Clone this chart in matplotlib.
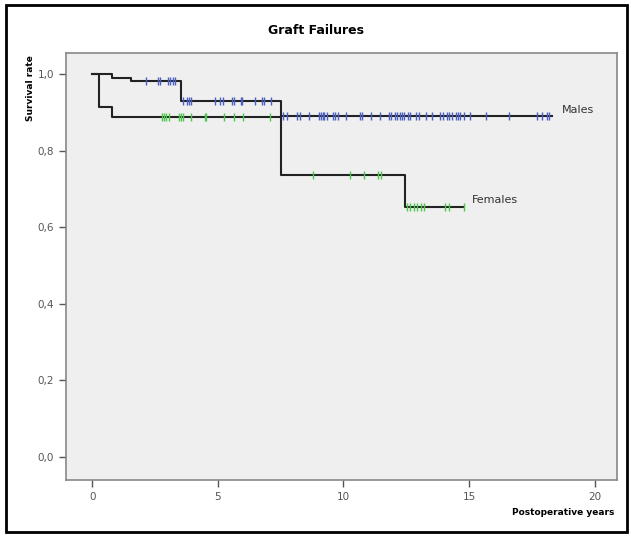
import matplotlib.pyplot as plt
from matplotlib.patches import Rectangle

# Kaplan-Meier steps (time of drop, survival after drop)
male_times = [0, 0.78, 1.54, 3.53, 7.52]
male_surv = [1.0, 0.989, 0.982, 0.930, 0.890]
male_end = 18.3
female_times = [0, 0.28, 0.78, 7.52, 12.47]
female_surv = [1.0, 0.915, 0.888, 0.736, 0.654]
female_end = 14.8

# censored observations (years)
male_cens = [2.15, 2.6, 2.68, 3.0, 3.1, 3.2, 3.3,
             3.61, 3.75, 3.84, 3.93, 4.87, 5.10, 5.21, 5.57, 5.63, 5.90, 5.96,
             6.47, 6.76, 6.85, 7.12,
             7.6, 7.76, 8.16, 8.26, 8.62, 9.02, 9.11, 9.18, 9.21, 9.35, 9.59,
             9.68, 9.77, 10.12, 10.65, 10.72, 11.10, 11.47, 11.8, 11.9, 12.04,
             12.14, 12.27, 12.34, 12.43, 12.56, 12.67, 12.87, 13.0, 13.27,
             13.53, 13.86, 13.97, 14.13, 14.22, 14.33, 14.5, 14.55, 14.63,
             14.79, 15.06, 15.66, 16.59, 17.72, 17.92, 18.09, 18.18]
female_cens = [2.78, 2.84, 2.95, 3.04, 3.44, 3.53, 3.61, 3.94, 4.5, 4.53,
               5.23, 5.66, 6.0, 7.06,
               8.78, 10.25, 10.81, 11.37, 11.5,
               12.54, 12.64, 12.8, 12.94, 13.1, 13.2, 14.06, 14.2, 14.79]


def surv_at(t, times, surv):
    s = surv[0]
    for ti, si in zip(times, surv):
        if t >= ti:
            s = si
    return s


fig = plt.figure(figsize=(6.31, 5.36), dpi=100)
ax = fig.add_axes([0.1046, 0.1045, 0.8734, 0.7965])
ax.set_facecolor('#efefef')

for times, surv, end, cens, col in [
        (male_times, male_surv, male_end, male_cens, '#4a5fc4'),
        (female_times, female_surv, female_end, female_cens, '#4cc94c')]:
    ax.step(times + [end], surv + [surv[-1]], where='post', color='#222222', lw=1.5, zorder=2)
    ys = [surv_at(t, times, surv) for t in cens]
    ax.plot(cens, ys, linestyle='none', marker='|', markersize=6, mew=1.0, color=col, zorder=3)

ax.text(18.7, 0.906, 'Males', fontsize=8, color='#333333', va='center')
ax.text(15.1, 0.67, 'Females', fontsize=8, color='#333333', va='center')

ax.set_xlim(-1.05, 20.9)
ax.set_ylim(-0.06, 1.055)
ax.set_xticks([0, 5, 10, 15, 20])
ax.set_yticks([0, 0.2, 0.4, 0.6, 0.8, 1.0])
ax.set_yticklabels(['0,0', '0,2', '0,4', '0,6', '0,8', '1,0'])
ax.tick_params(direction='out', length=5, width=1, color='#555555',
               labelsize=7.5, labelcolor='#555555')
for sp in ax.spines.values():
    sp.set_color('#888888')
    sp.set_linewidth(1.2)

fig.text(0.5, 0.944, 'Graft Failures', ha='center', va='center', fontsize=9, fontweight='bold')
fig.text(0.049, 0.898, 'Survival rate', rotation=90, ha='center', va='top',
         fontsize=6.5, fontweight='bold')
fig.text(0.973, 0.043, 'Postoperative years', ha='right', va='center',
         fontsize=6.5, fontweight='bold')

# frame around figure
fig.patches.append(Rectangle((0.009, 0.008), 0.985, 0.982, transform=fig.transFigure,
                             fill=False, edgecolor='black', lw=2))

plt.savefig('out.png', dpi=100)
